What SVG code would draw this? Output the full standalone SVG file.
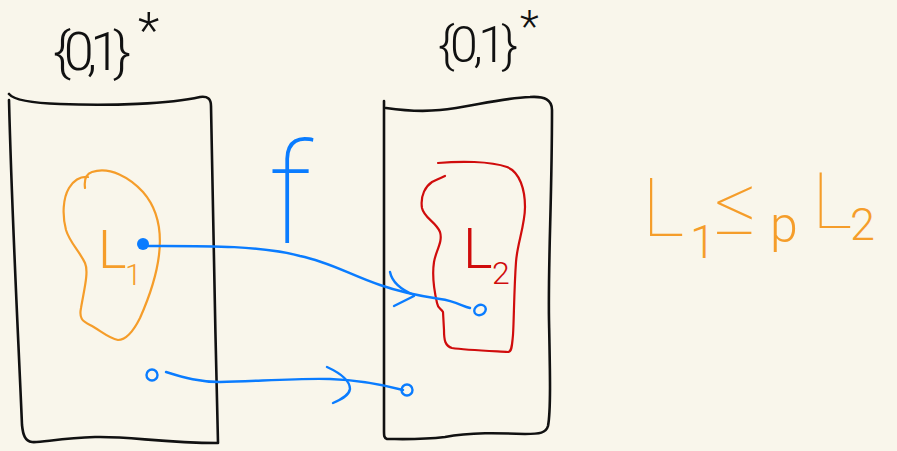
<svg xmlns="http://www.w3.org/2000/svg" width="897" height="451" viewBox="0 0 897 451">
  <style>
    .ink { fill: none; stroke-linecap: round; stroke-linejoin: round; }
    .box { stroke: #111; stroke-width: 2.6; }
    .blue { stroke: #0a7cff; stroke-width: 2.4; }
    .orange { stroke: #f59d2a; stroke-width: 2.2; }
    .red { stroke: #d00c0c; stroke-width: 2.2; }
    .hand { font-family: Roboto, "Open Sans", "DejaVu Sans", sans-serif; font-weight: 300; }
    .thin { font-weight: 100; }
  </style>
  <rect width="897" height="451" fill="#f9f6eb"/>

  <!-- left universe {0,1}* -->
  <g id="universe-left">
    <path class="ink box" d="M 9,94 C 14,100 30,103 60,104 C 110,106 170,104 200,97 C 208,96 211,99 211,106 C 213,200 215,330 218,443 C 160,443 130,436 95,437 C 60,438 40,443 32,442 C 25,441 23,435 22,425 C 18,330 12,220 9,100"/>
    <text class="hand" x="53" y="70" font-size="54" textLength="78" lengthAdjust="spacing" fill="#111">{0,1}</text>
    <text class="hand" x="138" y="48" font-size="50" fill="#111">*</text>
  </g>

  <!-- right universe {0,1}* -->
  <g id="universe-right">
    <path class="ink box" d="M 384,101 L 384,108 M 386,108 C 400,110 420,112 440,110 C 470,107 500,98 530,97 C 545,96 552,100 552,110 C 552,200 548,260 549,320 C 550,370 551,410 548,426 C 546,433 540,434 525,434 C 500,433 470,432 445,437 C 420,440 400,439 387,439 C 384,438 384,436 384,430 C 384,330 383,220 384,104"/>
    <text class="hand" x="438" y="62" font-size="50" textLength="80" lengthAdjust="spacing" fill="#111">{0,1}</text>
    <text class="hand" x="520" y="42" font-size="44" fill="#111">*</text>
  </g>

  <!-- language L1 -->
  <g id="lang-L1">
    <path class="ink orange" d="M 85,188 C 84,180 86,174 92,172 C 110,166 130,178 143,192 C 157,208 162,230 159,255 C 156,280 148,300 140,318 C 134,330 126,340 118,340 C 108,338 100,330 90,325 C 82,321 79,318 81,308 C 84,290 89,272 85,263 C 80,252 70,243 66,230 C 62,215 63,198 69,188 C 73,181 80,176 88,177"/>
    <text class="hand" fill="#f59d2a"><tspan x="98" y="268" font-size="54">L</tspan><tspan x="125" y="285" font-size="30">1</tspan></text>
  </g>

  <!-- language L2 -->
  <g id="lang-L2">
    <path class="ink red" d="M 438,163 C 460,161 490,161 507,167 C 520,172 525,190 525,207 C 525,225 517,245 516,262 C 514,290 514,320 513,335 C 512,345 512,352 508,352 C 490,351 465,350 452,348 C 445,346 444,340 444,330 L 443,312 C 441,308 438,309 437,303 C 434,290 432,275 434,262 C 436,250 443,242 440,232 C 436,222 424,218 422,208 C 420,195 426,186 432,182 C 438,179 443,177 445,176"/>
    <text class="hand" fill="#d00c0c"><tspan x="463" y="268" font-size="56">L</tspan><tspan x="492" y="284" font-size="32">2</tspan></text>
  </g>

  <!-- reduction label -->
  <g id="label-f">
    <text class="hand thin" x="268" y="243" font-size="140" fill="#0a7cff">f</text>
  </g>

  <!-- relation -->
  <g id="relation">
    <text class="hand" fill="#f59d2a"><tspan class="thin" x="642" y="236" font-size="82">L</tspan><tspan x="690" y="258" font-size="46">1</tspan><tspan class="thin" x="714" y="234" font-size="84">≤</tspan><tspan x="770" y="242" font-size="50">p</tspan><tspan class="thin" x="812" y="228" font-size="78">L</tspan><tspan x="850" y="240" font-size="45">2</tspan></text>
  </g>

  <!-- mapping arrows -->
  <g id="connectors">
    <circle cx="143" cy="244" r="6" fill="#0a7cff"/>
    <path class="ink blue" d="M 145,246 C 200,246 260,245 300,256 C 330,262 350,275 380,285 C 400,292 420,296 440,299 C 455,301 462,306 470,308"/>
    <path class="ink blue" d="M 390,272 C 392,282 402,290 414,295 M 394,306 C 402,302 408,299 414,296"/>
    <ellipse class="ink blue" cx="480" cy="310" rx="6" ry="5" transform="rotate(-30 480 310)"/>

    <circle class="ink blue" cx="152" cy="375" r="5.5"/>
    <path class="ink blue" d="M 166,372 C 185,378 200,382 220,382 C 260,381 300,378 330,379 C 360,380 380,384 403,390"/>
    <path class="ink blue" d="M 327,367 C 340,373 350,380 350,389 C 349,396 340,400 333,403"/>
    <circle class="ink blue" cx="407" cy="390" r="5.5"/>
  </g>
</svg>
